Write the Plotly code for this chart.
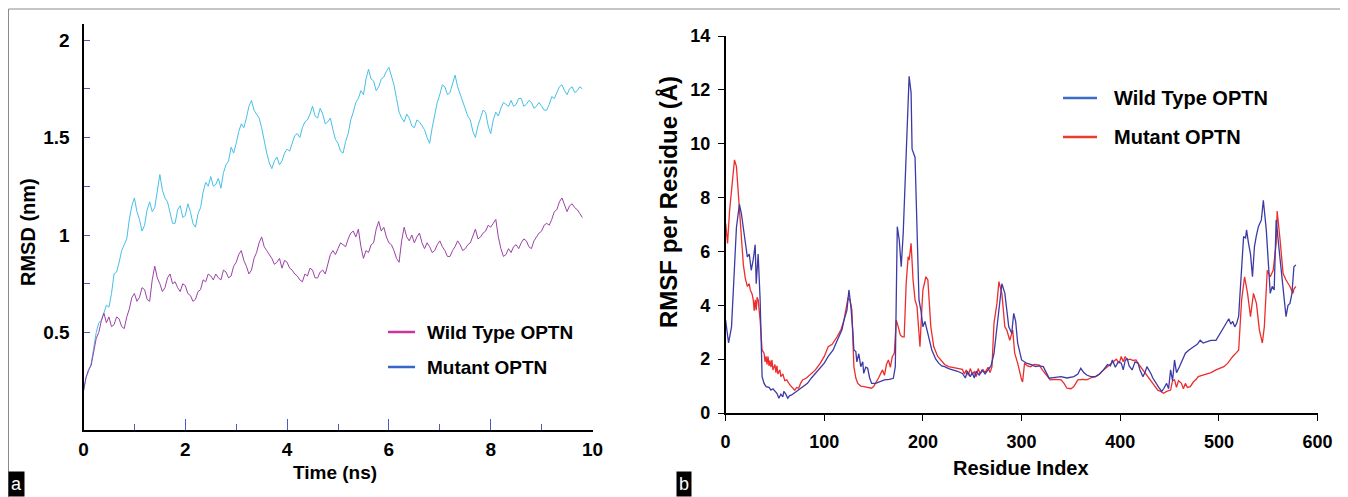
import plotly.graph_objects as go

# ---- panel a: RMSD over time (frames every 0.05 ns) ----
time_ns = [round(i * 0.05, 2) for i in range(197)]

rmsd_wild = [
    0.20, 0.27, 0.31, 0.33, 0.40, 0.47, 0.50, 0.56, 0.60, 0.55,
    0.58, 0.53, 0.54, 0.58, 0.57, 0.53, 0.52, 0.58, 0.62, 0.68,
    0.70, 0.66, 0.68, 0.73, 0.72, 0.67, 0.66, 0.77, 0.84, 0.78,
    0.75, 0.71, 0.73, 0.78, 0.80, 0.75, 0.76, 0.73, 0.71, 0.75,
    0.74, 0.70, 0.69, 0.66, 0.67, 0.71, 0.72, 0.77, 0.76, 0.80,
    0.79, 0.77, 0.80, 0.78, 0.77, 0.82, 0.81, 0.78, 0.79, 0.84,
    0.86, 0.90, 0.92, 0.87, 0.84, 0.80, 0.82, 0.88, 0.91, 0.96,
    0.99, 0.94, 0.92, 0.90, 0.88, 0.85, 0.86, 0.88, 0.83, 0.87,
    0.86, 0.83, 0.82, 0.80, 0.79, 0.77, 0.76, 0.80, 0.79, 0.83,
    0.82, 0.78, 0.78, 0.81, 0.82, 0.80, 0.85, 0.90, 0.92, 0.90,
    0.93, 0.96, 0.95, 0.94, 0.98, 1.01, 1.02, 0.99, 1.03, 0.94,
    0.88, 0.92, 0.91, 0.95, 0.96, 1.03, 1.07, 1.02, 1.04, 0.99,
    0.96, 0.95, 0.92, 0.88, 0.86, 0.97, 1.04, 0.99, 0.97, 1.00,
    0.96, 0.99, 1.01, 0.96, 0.93, 0.96, 0.94, 0.91, 0.92, 0.95,
    0.97, 0.94, 0.92, 0.89, 0.89, 0.92, 0.94, 0.97, 0.95, 0.92,
    0.93, 0.95, 0.96, 1.00, 1.03, 0.98, 0.99, 1.01, 1.02, 1.05,
    1.04, 1.06, 1.08, 0.99, 0.93, 0.89, 0.90, 0.93, 0.91, 0.94,
    0.95, 0.93, 0.96, 0.98, 0.97, 0.94, 0.93, 0.97, 0.99, 1.01,
    1.02, 1.05, 1.06, 1.05, 1.08, 1.12, 1.13, 1.17, 1.19, 1.15,
    1.12, 1.15, 1.16, 1.14, 1.13, 1.11, 1.09,
]

rmsd_mutant = [
    0.20, 0.27, 0.30, 0.34, 0.42, 0.50, 0.55, 0.56, 0.60, 0.64,
    0.63, 0.70, 0.80, 0.81, 0.86, 0.92, 0.95, 0.98, 1.08, 1.15,
    1.19, 1.12, 1.08, 1.02, 1.05, 1.13, 1.17, 1.12, 1.14, 1.22,
    1.31, 1.23, 1.19, 1.17, 1.12, 1.06, 1.06, 1.13, 1.15, 1.09,
    1.10, 1.16, 1.12, 1.06, 1.04, 1.11, 1.14, 1.22, 1.27, 1.25,
    1.30, 1.25, 1.26, 1.29, 1.24, 1.32, 1.36, 1.38, 1.45, 1.42,
    1.47, 1.53, 1.57, 1.55, 1.60, 1.66, 1.69, 1.64, 1.62, 1.60,
    1.55, 1.48, 1.42, 1.37, 1.34, 1.38, 1.40, 1.36, 1.38, 1.42,
    1.44, 1.43, 1.47, 1.51, 1.52, 1.50, 1.55, 1.58, 1.59, 1.62,
    1.66, 1.61, 1.60, 1.65, 1.62, 1.57, 1.58, 1.60, 1.54, 1.49,
    1.47, 1.43, 1.42, 1.48, 1.52, 1.59, 1.63, 1.68, 1.70, 1.74,
    1.72, 1.80, 1.85, 1.80, 1.79, 1.74, 1.76, 1.80, 1.81, 1.84,
    1.86, 1.82, 1.77, 1.70, 1.63, 1.60, 1.58, 1.62, 1.60, 1.56,
    1.55, 1.59, 1.58, 1.56, 1.54, 1.50, 1.47, 1.55, 1.62, 1.68,
    1.72, 1.77, 1.76, 1.72, 1.73, 1.78, 1.82, 1.76, 1.72, 1.69,
    1.65, 1.61, 1.59, 1.53, 1.50, 1.56, 1.60, 1.64, 1.63, 1.56,
    1.52, 1.59, 1.63, 1.61, 1.65, 1.68, 1.67, 1.66, 1.69, 1.66,
    1.67, 1.70, 1.70, 1.66, 1.67, 1.69, 1.68, 1.65, 1.66, 1.68,
    1.66, 1.64, 1.64, 1.67, 1.71, 1.70, 1.73, 1.76, 1.77, 1.74,
    1.72, 1.75, 1.76, 1.73, 1.74, 1.76, 1.75,
]

# ---- panel b: RMSF per residue ----
res_wild = [
    0, 3, 6, 9, 11, 14, 16, 19, 22, 24, 26, 28, 30, 31, 33, 35, 37, 39, 41, 44,
    46, 48, 50, 52, 54, 56, 58, 59, 61, 63, 65, 67, 70, 74, 78, 83, 87, 91, 95, 100,
    104, 109, 112, 115, 118, 120, 123, 125, 127, 129, 130, 132, 133, 135, 137, 139, 140, 142, 144, 146,
    148, 152, 156, 161, 166, 170, 172, 174, 176, 178, 180, 183, 184, 186, 188, 189, 192, 194, 196, 198,
    200, 202, 205, 209, 213, 216, 219, 222, 226, 231, 235, 240, 243, 245, 248, 250, 252, 254, 257, 260,
    263, 266, 269, 272, 275, 277, 280, 283, 285, 287, 290, 292, 294, 296, 300, 305, 310, 314, 318, 322,
    325, 328, 334, 340, 346, 353, 357, 360, 363, 366, 370, 375, 379, 383, 387, 390, 392, 395, 398, 401,
    403, 405, 407, 409, 412, 415, 418, 420, 423, 425, 427, 429, 431, 433, 436, 439, 442, 444, 447, 449,
    451, 453, 455, 457, 460, 463, 466, 470, 475, 478, 481, 484, 488, 492, 497, 500, 503, 506, 510, 512,
    514, 516, 518, 520, 521, 523, 525, 527, 528, 530, 532, 534, 536, 538, 540, 543, 545, 548, 550, 552,
    554, 556, 558, 560, 562, 564, 566, 568, 570, 572, 574, 576, 578,
]
rmsf_wild = [
    3.45, 2.6, 3.2, 5.4, 6.9, 7.75, 7.4, 6.6, 5.8, 5.9, 5.3, 5.7, 6.25, 4.8, 5.9, 4.2, 1.35, 1.1, 0.98, 0.95,
    0.85, 0.9, 0.8, 0.73, 0.55, 0.7, 0.6, 0.8, 0.7, 0.55, 0.65, 0.67, 0.75, 0.85, 0.98, 1.1, 1.3, 1.47, 1.6, 1.85,
    2.1, 2.34, 2.6, 2.83, 3.1, 3.45, 3.82, 4.57, 3.95, 3.0, 2.34, 2.28, 1.9, 2.2, 1.72, 1.9, 1.47, 1.7, 1.66, 1.3,
    1.1, 1.1, 1.15, 1.23, 1.25, 1.29, 1.72, 6.92, 6.42, 5.43, 6.67, 10.0, 10.4, 12.5, 11.9, 9.8, 9.5, 6.7, 4.2, 3.8,
    3.2, 3.4, 2.96, 2.34, 2.0, 1.85, 1.75, 1.72, 1.65, 1.6, 1.55, 1.47, 1.3, 1.55, 1.35, 1.5, 1.3, 1.55, 1.41, 1.6,
    1.45, 1.6, 1.75, 2.2, 3.2, 3.7, 4.8, 4.45, 3.8, 3.2, 2.96, 3.7, 3.4, 2.6, 1.97, 1.85, 1.8, 1.72, 1.75, 1.72,
    1.5, 1.29, 1.32, 1.35, 1.3, 1.35, 1.45, 1.66, 1.5, 1.41, 1.35, 1.35, 1.45, 1.6, 1.8, 1.75, 1.97, 1.7, 1.9, 1.85,
    1.6, 1.95, 2.03, 1.75, 1.6, 1.9, 1.85, 1.6, 1.35, 1.5, 1.72, 1.6, 1.47, 1.3, 1.1, 0.95, 0.8, 0.9, 1.1, 0.9,
    1.6, 1.2, 1.97, 1.5, 1.72, 2.0, 2.22, 2.35, 2.46, 2.55, 2.7, 2.6, 2.65, 2.7, 2.7, 2.9, 3.08, 3.25, 3.5, 3.3,
    3.4, 3.2, 3.33, 3.6, 4.2, 5.5, 6.55, 6.5, 6.8, 6.3, 5.9, 5.06, 6.18, 6.6, 6.92, 7.17, 7.9, 6.8, 5.43, 4.44,
    4.7, 4.57, 7.17, 6.3, 5.7, 5.0, 4.2, 3.58, 4.0, 4.07, 4.44, 5.43, 5.5,
]

res_mutant = [
    0, 2, 4, 6, 8, 9, 11, 13, 16, 18, 20, 22, 24, 25, 27, 28, 29, 30, 31, 32,
    33, 35, 37, 39, 40, 41, 42, 43, 44, 45, 46, 47, 48, 50, 51, 52, 53, 55, 56, 58,
    60, 62, 65, 68, 70, 72, 74, 76, 78, 82, 87, 91, 96, 100, 104, 108, 113, 117, 120, 122,
    124, 126, 128, 130, 132, 134, 137, 140, 144, 148, 150, 152, 155, 159, 161, 163, 165, 167, 169, 171,
    173, 175, 177, 179, 181, 183, 185, 186, 188, 190, 192, 194, 197, 199, 200, 203, 205, 208, 211, 215,
    218, 222, 226, 230, 235, 240, 242, 244, 246, 248, 250, 252, 254, 256, 258, 261, 263, 266, 268, 270,
    272, 275, 277, 280, 283, 285, 288, 291, 293, 296, 298, 300, 301, 303, 306, 309, 313, 318, 321, 324,
    327, 329, 334, 340, 343, 346, 350, 353, 357, 362, 366, 370, 375, 379, 383, 388, 392, 396, 399, 401,
    403, 405, 407, 410, 413, 416, 419, 423, 427, 431, 434, 438, 441, 444, 447, 451, 453, 455, 457, 459,
    462, 464, 466, 468, 471, 474, 477, 479, 483, 488, 492, 497, 501, 505, 509, 514, 518, 520, 523, 526,
    529, 531, 532, 535, 538, 541, 543, 544, 546, 549, 552, 555, 558, 559, 562, 565, 568, 572, 575, 576,
    578,
]
rmsf_mutant = [
    7.05, 6.3, 7.5, 8.3, 9.2, 9.4, 9.15, 8.0, 6.67, 5.5, 5.0, 4.7, 4.8, 4.57, 4.4, 4.2, 3.8, 4.2, 3.82, 4.3,
    4.2, 3.45, 2.34, 2.22, 1.9, 2.1, 1.8, 2.1, 1.75, 1.95, 1.7, 1.97, 1.6, 1.8, 1.5, 1.75, 1.45, 1.6, 1.35, 1.45,
    1.2, 1.23, 1.05, 0.95, 0.85, 0.95, 0.92, 1.1, 1.23, 1.3, 1.47, 1.6, 1.85, 2.1, 2.46, 2.55, 2.83, 3.1, 3.45, 3.9,
    4.26, 4.2, 3.82, 1.72, 1.3, 1.1, 1.0, 0.98, 0.95, 0.92, 0.98, 1.1, 1.3, 1.6, 1.4, 1.8, 1.97, 1.7, 2.1, 2.22,
    3.45, 3.2, 2.9, 2.83, 2.83, 4.8, 5.8, 5.68, 6.3, 4.94, 4.2, 3.95, 2.46, 3.95, 4.57, 5.06, 4.94, 3.2, 2.46, 2.1,
    1.97, 1.8, 1.72, 1.7, 1.66, 1.62, 1.45, 1.6, 1.4, 1.65, 1.45, 1.53, 1.35, 1.65, 1.45, 1.6, 1.5, 1.7, 1.5, 1.72,
    3.33, 4.07, 4.88, 4.44, 3.2, 3.08, 2.7, 3.08, 2.22, 1.85, 1.5, 1.23, 1.15, 1.85, 1.75, 1.72, 1.8, 1.78, 1.6, 1.47,
    1.3, 1.23, 1.25, 1.23, 1.1, 0.92, 0.9, 0.98, 1.23, 1.25, 1.23, 1.3, 1.35, 1.45, 1.6, 1.75, 1.85, 2.0, 1.85, 2.1,
    1.9, 2.1, 1.97, 2.0, 1.95, 1.97, 1.8, 1.6, 1.4, 1.23, 1.05, 0.85, 0.8, 0.73, 0.8, 0.85, 1.2, 1.23, 0.95, 1.2,
    1.1, 0.9, 1.1, 0.95, 0.98, 1.15, 1.25, 1.35, 1.4, 1.47, 1.5, 1.6, 1.65, 1.72, 1.85, 2.1, 2.25, 2.34, 4.2, 5.06,
    4.44, 3.9, 3.58, 4.44, 4.07, 3.08, 2.7, 2.6, 3.2, 5.3, 5.06, 5.3, 6.3, 7.5, 6.42, 5.18, 4.94, 4.7, 4.44, 4.6,
    4.7,
]

W, H = 1348, 497
# the page body adds an 8px margin, so positions are measured from that offset
OX, OY = 8, 8
FONT = "Liberation Sans, Arial, sans-serif"


def px(x):
    return (x - OX) / W


def py(y):
    return 1 - (y - OY) / H


def bold(size, color="black"):
    return dict(family=FONT, size=size, color=color, weight="bold")


fig = go.Figure()

# panel a
fig.add_trace(go.Scatter(x=time_ns, y=rmsd_mutant, mode="lines", name="Mutant OPTN",
                         line=dict(color="#46bfe8", width=1), xaxis="x", yaxis="y"))
fig.add_trace(go.Scatter(x=time_ns, y=rmsd_wild, mode="lines", name="Wild Type OPTN",
                         line=dict(color="#9a42a6", width=1), xaxis="x", yaxis="y"))

# panel b
fig.add_trace(go.Scatter(x=res_mutant, y=rmsf_mutant, mode="lines", name="Mutant OPTN",
                         line=dict(color="#ee2c2c", width=1.3), xaxis="x2", yaxis="y2"))
fig.add_trace(go.Scatter(x=res_wild, y=rmsf_wild, mode="lines", name="Wild Type OPTN",
                         line=dict(color="#3c3aa6", width=1.3), xaxis="x2", yaxis="y2"))

tick_blue = "#4a5cc8"

fig.update_layout(
    width=W, height=H, autosize=False, showlegend=False,
    margin=dict(l=0, r=0, t=0, b=0),
    paper_bgcolor="white", plot_bgcolor="white",
    xaxis=dict(
        domain=[px(83.5), px(592.5)], range=[0, 10], automargin=False,
        tickvals=[0, 2, 4, 6, 8, 10], ticks="inside", ticklen=11, tickcolor=tick_blue,
        tickwidth=1.2,
        minor=dict(tickvals=[1, 3, 5, 7, 9], ticks="inside", ticklen=6, tickcolor=tick_blue),
        showline=True, linecolor="black", linewidth=2, showgrid=False, zeroline=False,
        tickfont=bold(19), ticklabelstandoff=1, anchor="y",
    ),
    yaxis=dict(
        domain=[py(430), py(24.4)], range=[0, 2.08], automargin=False,
        tickvals=[0.5, 1, 1.5, 2], ticktext=["0.5", "1", "1.5", "2"],
        ticks="inside", ticklen=6, tickcolor=tick_blue, tickwidth=1.2,
        minor=dict(tickvals=[0.75, 1.25, 1.75], ticks="inside", ticklen=6, tickcolor=tick_blue),
        showline=True, linecolor="black", linewidth=2, showgrid=False, zeroline=False,
        tickfont=bold(19), ticklabelstandoff=8, anchor="x",
    ),
    xaxis2=dict(
        domain=[px(725.6), px(1317.6)], range=[0, 600], automargin=False,
        tickvals=[0, 100, 200, 300, 400, 500, 600], ticks="outside", ticklen=6,
        tickcolor="black", showline=True, linecolor="black", linewidth=1.5,
        showgrid=False, zeroline=False,
        tickfont=bold(18), ticklabelstandoff=6, anchor="y2",
    ),
    yaxis2=dict(
        domain=[py(413), py(36)], range=[0, 14], automargin=False,
        tickvals=[0, 2, 4, 6, 8, 10, 12, 14], ticks="outside", ticklen=6,
        tickcolor="black", showline=True, linecolor="black", linewidth=1.5,
        showgrid=False, zeroline=False,
        tickfont=bold(18), ticklabelstandoff=4, anchor="x2",
    ),
)

annotations = [
    dict(text="RMSD (nm)", x=px(28), y=py(232), textangle=-90, font=bold(20)),
    dict(text="Time (ns)", x=px(335), y=py(472), font=bold(19)),
    dict(text="RMSF per Residue (Å)", x=px(668), y=py(202), textangle=-90, font=bold(24)),
    dict(text="Residue Index", x=px(1021), y=py(468), font=bold(20)),
]
for a in annotations:
    a.update(xref="paper", yref="paper", showarrow=False, xanchor="center", yanchor="middle")
    fig.add_annotation(**a)

# legend keys: (x0, x1, y, colour, label, text_x, size) -- colours as printed in the original keys
legend_keys = [
    (388, 415, 332, "#c8359c", "Wild Type OPTN", 425, 19),
    (388, 415, 367, "#3566c8", "Mutant OPTN", 425, 19),
    (1063, 1097, 98, "#3a6cc8", "Wild Type OPTN", 1112, 20),
    (1063, 1097, 137, "#ee3b2f", "Mutant OPTN", 1112, 20),
]
for x0, x1, y, color, label, tx, size in legend_keys:
    fig.add_shape(type="line", xref="paper", yref="paper", x0=px(x0), x1=px(x1),
                  y0=py(y), y1=py(y), line=dict(color=color, width=2.5))
    fig.add_annotation(text=label, xref="paper", yref="paper", x=px(tx), y=py(y),
                       xanchor="left", yanchor="middle", showarrow=False, font=bold(size))

# panel letters in black boxes
for letter, x0 in (("a", 8), ("b", 676)):
    fig.add_annotation(text=letter, xref="paper", yref="paper", x=px(x0), y=py(497),
                       xanchor="left", yanchor="bottom", showarrow=False,
                       bgcolor="black", borderpad=2,
                       font=dict(family=FONT, size=18, color="white"))

# thin frame around the figure
frame = dict(type="line", xref="paper", yref="paper", line=dict(color="#8a8a8a", width=1))
fig.add_shape(**frame, x0=px(8.5), x1=px(1344), y0=py(9), y1=py(9))
fig.add_shape(**frame, x0=px(8.5), x1=px(8.5), y0=py(9), y1=py(497))
fig.add_shape(**frame, x0=px(1344), x1=px(1344), y0=py(9), y1=py(497))

fig.write_html("out.html")
